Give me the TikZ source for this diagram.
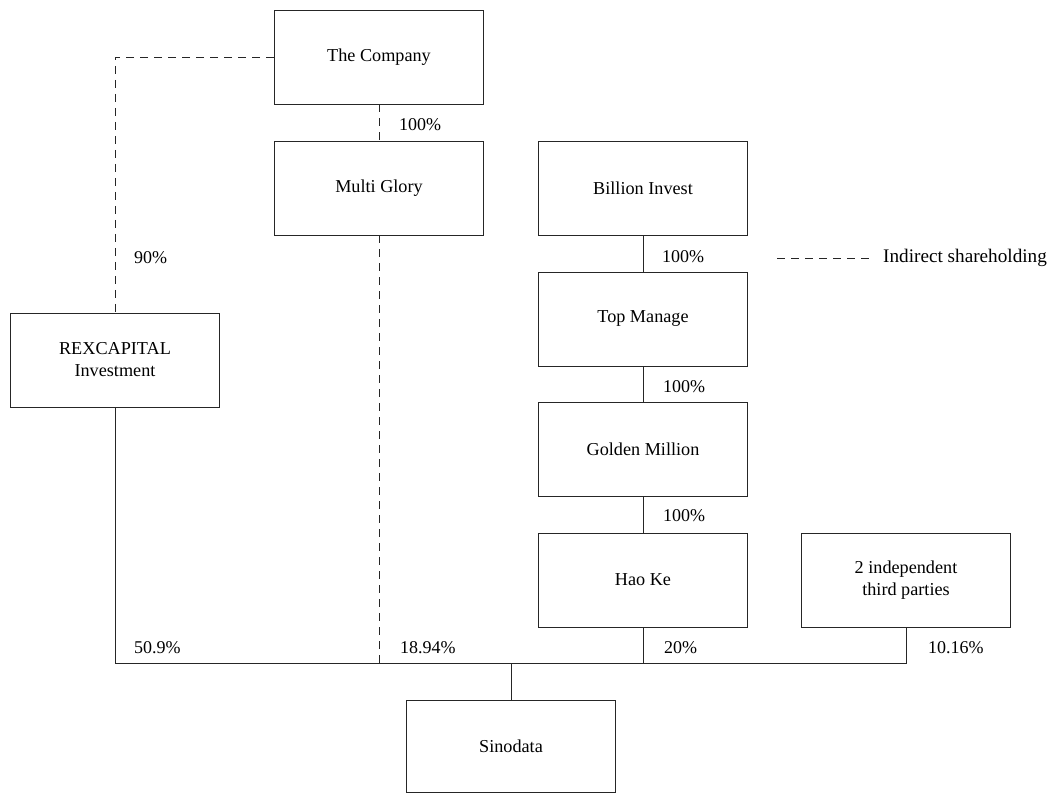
\documentclass[tikz,border=0pt]{standalone}
\usepackage{fontspec}
\setmainfont{Liberation Serif}
\begin{document}
\begin{tikzpicture}[x=1pt,y=-1pt,
  box/.style={draw=black!85, line width=0.9pt, rectangle, minimum width=209pt, minimum height=94pt, inner sep=0pt, align=center, font=\fontsize{18.2}{22}\selectfont},
  lbl/.style={anchor=west, inner sep=0pt, font=\fontsize{18}{22}\selectfont},
  conn/.style={draw=black!85, line width=0.9pt},
  dsh/.style={draw=black!85, line width=0.9pt, dash pattern=on 8pt off 6pt}]
\useasboundingbox (0,0) rectangle (1048,794);
% boxes
\node[box] (co) at (379,57) {The Company};
\node[box] (mg) at (379,188) {Multi Glory};
\node[box] (bi) at (643,188) {Billion Invest};
\node[box] (tm) at (643,319) {Top Manage};
\node[box] (gm) at (643,449) {Golden Million};
\node[box] (hk) at (643,580) {Hao Ke};
\node[box] (tp) at (906,580) {2 independent\\third parties};
\node[box] (rex) at (115,360) {REXCAPITAL\\Investment};
\node[box, minimum height=92pt] (sino) at (511,746) {Sinodata};
% connectors
\coordinate (bus) at (0,663);
\draw[dsh] (co.west) -| (rex.north);
\draw[dsh] (co.south) -- (mg.north);
\draw[conn] (bi.south) -- (tm.north);
\draw[conn] (tm.south) -- (gm.north);
\draw[conn] (gm.south) -- (hk.north);
\draw[conn] (rex.south) -- (rex.south |- bus) -- (tp.south |- bus) -- (tp.south);
\draw[dsh] (mg.south) -- (mg.south |- bus);
\draw[conn] (hk.south) -- (hk.south |- bus);
\draw[conn] (sino.north) -- (sino.north |- bus);
% labels
\node[lbl] (l1) at (399,125) {100\%};
\node[lbl] (l2) at (134,258) {90\%};
\node[lbl] (l3) at (662,257) {100\%};
\node[lbl] (l4) at (663,387) {100\%};
\node[lbl] (l5) at (663,516) {100\%};
\node[lbl] (l6) at (134,648) {50.9\%};
\node[lbl] (l7) at (400,648) {18.94\%};
\node[lbl] (l8) at (664,648) {20\%};
\node[lbl] (l9) at (928,648) {10.16\%};
% legend
\coordinate (lg1) at (777,258);
\coordinate (lg2) at (870,258);
\draw[dsh] (lg1) -- (lg2);
\node[lbl, font=\fontsize{19.2}{22}\selectfont] (lgt) at (883,258) {Indirect shareholding};
\end{tikzpicture}
\end{document}
